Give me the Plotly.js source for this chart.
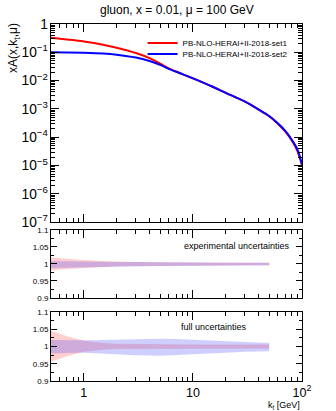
<!DOCTYPE html>
<html>
<head>
<meta charset="utf-8">
<script src="https://cdn.plot.ly/plotly-3.0.1.min.js"></script>
<style>html,body{margin:0;padding:0;background:#fff;}#chart{width:336px;height:411px;}</style>
</head>
<body>
<div id="chart"></div>
<script>
// ---- data ----
const kt = [0.5, 0.7, 1, 1.5, 2, 3, 4, 5, 6, 8, 10, 15, 20, 30, 40, 50, 60, 70, 80, 90, 100];
const set1 = [0.33, 0.285, 0.24, 0.185, 0.145, 0.094, 0.062, 0.04, 0.027, 0.017, 0.012, 0.0062, 0.0037, 0.0018, 0.00095, 0.00055, 0.0003, 0.00016, 0.00008, 0.000035, 0.00001];
const set2 = [0.10, 0.099, 0.096, 0.09, 0.082, 0.065, 0.049, 0.036, 0.026, 0.017, 0.012, 0.0062, 0.0037, 0.0018, 0.00096, 0.00056, 0.00031, 0.00017, 0.000085, 0.00004, 0.000011];

const ktBand = [0.5, 0.7, 1, 1.5, 2, 3, 5, 7, 10, 20, 30, 50];
// experimental uncertainties (ratio to central)
const exp1Up = [1.019, 1.015, 1.012, 1.009, 1.007, 1.006, 1.005, 1.005, 1.005, 1.004, 1.004, 1.004];
const exp1Dn = [0.981, 0.985, 0.988, 0.991, 0.993, 0.994, 0.995, 0.995, 0.995, 0.996, 0.996, 0.996];
const exp2Up = [1.009, 1.008, 1.007, 1.007, 1.006, 1.006, 1.005, 1.005, 1.005, 1.004, 1.004, 1.004];
const exp2Dn = [0.988, 0.989, 0.99, 0.991, 0.992, 0.993, 0.994, 0.994, 0.995, 0.995, 0.995, 0.996];
// full uncertainties
const full1Up = [1.046, 1.03, 1.017, 1.01, 1.008, 1.007, 1.006, 1.006, 1.006, 1.006, 1.006, 1.006];
const full1Dn = [0.956, 0.972, 0.985, 0.991, 0.993, 0.994, 0.994, 0.994, 0.994, 0.994, 0.994, 0.994];
const full2Up = [1.019, 1.018, 1.018, 1.019, 1.02, 1.022, 1.023, 1.022, 1.02, 1.015, 1.013, 1.01];
const full2Dn = [0.98, 0.981, 0.982, 0.98, 0.978, 0.975, 0.973, 0.974, 0.977, 0.982, 0.985, 0.986];

const names = ['PB-NLO-HERAI+II-2018-set1', 'PB-NLO-HERAI+II-2018-set2'];

function band(x, up, dn, color, xa, ya) {
  return {
    x: x.concat(x.slice().reverse()),
    y: up.concat(dn.slice().reverse()),
    type: 'scatter', mode: 'lines', fill: 'toself', fillcolor: color,
    line: {width: 0}, hoverinfo: 'skip', showlegend: false, xaxis: xa, yaxis: ya
  };
}

const redBand = 'rgba(255,70,70,0.26)';
const blueBand = 'rgba(70,70,255,0.26)';

const traces = [
  {x: kt, y: set1, type: 'scatter', mode: 'lines', name: names[0], legend: 'legend', line: {color: '#ff0000', width: 2, shape: 'spline'}, xaxis: 'x3', yaxis: 'y3'},
  {x: kt, y: set2, type: 'scatter', mode: 'lines', name: names[1], legend: 'legend2', line: {color: '#0000ff', width: 2, shape: 'spline'}, xaxis: 'x3', yaxis: 'y3'},
  band(ktBand, exp1Up, exp1Dn, redBand, 'x2', 'y2'),
  band(ktBand, exp2Up, exp2Dn, blueBand, 'x2', 'y2'),
  band(ktBand, full1Up, full1Dn, redBand, 'x', 'y'),
  band(ktBand, full2Up, full2Dn, blueBand, 'x', 'y')
];

const fnt = {family: 'Liberation Sans, Arial, sans-serif', color: '#000'};
const xr = [Math.log10(0.5), 2];
function xax(show, anchor) {
  return {type: 'log', range: xr, anchor: anchor, showgrid: false, zeroline: false,
    showline: true, linecolor: '#000', linewidth: 1, mirror: 'ticks',
    ticks: 'inside', ticklen: 8, tickcolor: '#000', dtick: 1, exponentformat: 'power',
    minor: {ticks: 'inside', ticklen: 4, dtick: 'D1', tickcolor: '#000', showgrid: false},
    showticklabels: show, tickfont: Object.assign({size: 10}, fnt)};
}
function rax(domain, anchor) {
  return {domain: domain, range: [0.9, 1.1], anchor: anchor, showgrid: false, zeroline: false,
    showline: true, linecolor: '#000', linewidth: 1, mirror: 'ticks',
    ticks: 'inside', ticklen: 6, tickcolor: '#000', tickvals: [0.9, 0.95, 1, 1.05, 1.1],
    ticktext: ['0.9', '0.95', '1', '1.05', '1.1'],
    minor: {ticks: 'inside', ticklen: 3, tickvals: [0.925, 0.975, 1.025, 1.075], tickcolor: '#000', showgrid: false},
    tickfont: Object.assign({size: 8}, fnt)};
}
function leg(y) {
  return {x: 0.365, y: y, xanchor: 'left', yanchor: 'middle', bgcolor: 'rgba(0,0,0,0)',
    font: Object.assign({size: 8}, fnt), itemwidth: 30, borderwidth: 0};
}

const layout = {
  width: 336, height: 411,
  margin: {l: 51, r: 34, t: 24, b: 30},
  paper_bgcolor: '#fff', plot_bgcolor: '#fff',
  showlegend: true,
  legend: leg(0.947),
  legend2: leg(0.916),
  xaxis: xax(true, 'y'),
  xaxis2: xax(false, 'y2'),
  xaxis3: xax(false, 'y3'),
  yaxis: rax([0, 0.193], 'x'),
  yaxis2: rax([0.2325, 0.423], 'x2'),
  yaxis3: {domain: [0.445, 1], type: 'log', range: [-7, 0], anchor: 'x3', showgrid: false, zeroline: false,
    showline: true, linecolor: '#000', linewidth: 1, mirror: 'ticks',
    ticks: 'inside', ticklen: 8, tickcolor: '#000', dtick: 1, exponentformat: 'power',
    minor: {ticks: 'inside', ticklen: 4, dtick: 'D1', tickcolor: '#000', showgrid: false},
    tickfont: Object.assign({size: 11}, fnt)},
  annotations: [
    {text: 'gluon, x = 0.01, μ = 100 GeV', xref: 'paper', yref: 'paper', x: 0.5, y: 1, yshift: 14, xanchor: 'center', yanchor: 'middle', showarrow: false, font: Object.assign({size: 12}, fnt)},
    {text: 'xA(x,k<sub>t</sub>,μ)', xref: 'paper', yref: 'paper', x: 0, xshift: -37, y: 1, yshift: -24, textangle: -90, xanchor: 'center', yanchor: 'middle', showarrow: false, font: Object.assign({size: 12}, fnt)},
    {text: 'experimental uncertainties', xref: 'paper', yref: 'paper', x: 0.96, y: 0.378, xanchor: 'right', yanchor: 'middle', showarrow: false, font: Object.assign({size: 9}, fnt)},
    {text: 'full uncertainties', xref: 'paper', yref: 'paper', x: 0.79, y: 0.151, xanchor: 'right', yanchor: 'middle', showarrow: false, font: Object.assign({size: 9}, fnt)},
    {text: 'k<sub>t</sub> [GeV]', xref: 'paper', yref: 'paper', x: 1, y: 0, yshift: -24, xanchor: 'right', yanchor: 'middle', showarrow: false, font: Object.assign({size: 9}, fnt)}
  ]
};

Plotly.newPlot('chart', traces, layout, {staticPlot: true, displayModeBar: false});
</script>
</body>
</html>
